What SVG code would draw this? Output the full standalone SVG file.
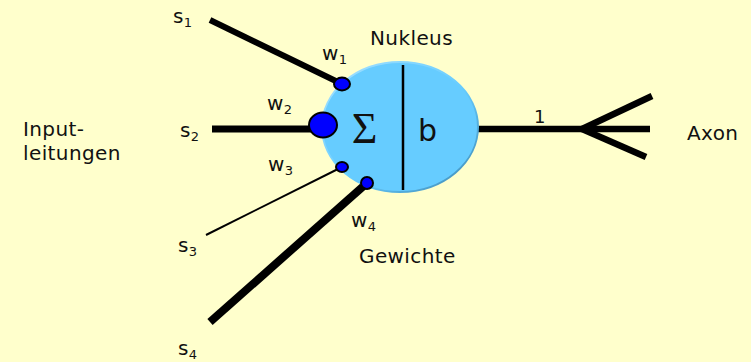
<svg xmlns="http://www.w3.org/2000/svg" width="751" height="362" viewBox="0 0 751 362">
<style>
text{font-family:"DejaVu Sans","Liberation Sans",sans-serif;fill:#111;font-size:20px;letter-spacing:0.4px}
.sub{font-size:13px}
.syn{fill:#0000ff;stroke:#000;stroke-width:2}
.wire{stroke:#000;fill:none}
</style>
<defs>
<linearGradient id="edge" x1="0" y1="0" x2="1" y2="1">
<stop offset="0" stop-color="#a8e2ff"/>
<stop offset="0.55" stop-color="#66ccff"/>
<stop offset="1" stop-color="#3c86b0"/>
</linearGradient>
</defs>
<rect width="751" height="362" fill="#ffffcc"/>
<g id="connectors">
<line class="wire" x1="210" y1="20" x2="342" y2="84" stroke-width="6"/>
<line class="wire" x1="212" y1="129" x2="318" y2="129" stroke-width="7"/>
<line class="wire" x1="206" y1="235" x2="342" y2="167" stroke-width="2"/>
<line class="wire" x1="210" y1="322" x2="367" y2="183" stroke-width="8"/>
<line class="wire" x1="476" y1="129" x2="582" y2="129" stroke-width="6.5"/>
<line class="wire" x1="582" y1="129" x2="652" y2="96" stroke-width="6.5"/>
<line class="wire" x1="582" y1="129" x2="650" y2="129" stroke-width="6.5"/>
<line class="wire" x1="582" y1="129" x2="646" y2="157" stroke-width="6.5"/>
</g>
<g id="nucleus">
<ellipse cx="400" cy="127" rx="78" ry="65" fill="#66ccff" stroke="url(#edge)" stroke-width="2"/>
<line x1="403" y1="65" x2="403" y2="190" stroke="#000" stroke-width="2.5"/>
<text x="364.5" y="143" text-anchor="middle" style="font-family:'Liberation Serif',serif;font-size:44px;letter-spacing:0">Σ</text>
<text x="418" y="141" style="font-size:30px;letter-spacing:0">b</text>
</g>
<g id="synapses">
<ellipse class="syn" cx="342" cy="84" rx="8" ry="6.5"/>
<ellipse class="syn" cx="323" cy="125" rx="14" ry="12.5"/>
<ellipse class="syn" cx="342" cy="167" rx="6" ry="5"/>
<ellipse class="syn" cx="367" cy="183" rx="6" ry="6"/>
</g>
<g id="labels">
<text x="173" y="23">s<tspan class="sub" dy="4">1</tspan></text>
<text x="180" y="137">s<tspan class="sub" dy="4">2</tspan></text>
<text x="178" y="252">s<tspan class="sub" dy="4">3</tspan></text>
<text x="178" y="355">s<tspan class="sub" dy="4">4</tspan></text>
<text x="322" y="60">w<tspan class="sub" dy="4">1</tspan></text>
<text x="267" y="110">w<tspan class="sub" dy="4">2</tspan></text>
<text x="268" y="171">w<tspan class="sub" dy="4">3</tspan></text>
<text x="351" y="227">w<tspan class="sub" dy="4">4</tspan></text>
<text x="370" y="45">Nukleus</text>
<text x="359" y="263">Gewichte</text>
<text x="23" y="136">Input-</text>
<text x="23" y="160">leitungen</text>
<text x="534" y="123" style="font-size:18px">1</text>
<text x="687" y="140">Axon</text>
</g>
</svg>
